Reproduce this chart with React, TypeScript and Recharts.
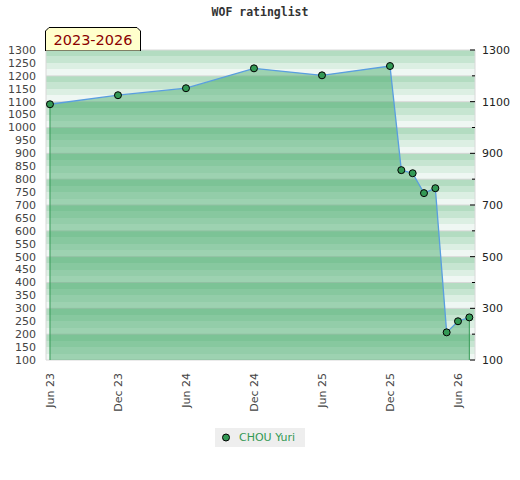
import {
  ComposedChart,
  Area,
  Line,
  XAxis,
  YAxis,
  CartesianGrid,
  Legend,
  ReferenceLine,
} from "recharts";

// rating list entries (year-month) and the ratings
const months = [
  "2023-06", "2023-12", "2024-06", "2024-12", "2025-06", "2025-12",
  "2026-01", "2026-02", "2026-03", "2026-04", "2026-05", "2026-06", "2026-07",
];
const ratings = [1090, 1125, 1152, 1229, 1202, 1238, 835, 823, 746, 765, 207, 250, 265];

const tickMonths = ["2023-06", "2023-12", "2024-06", "2024-12", "2025-06", "2025-12", "2026-06"];
const tickLabels = ["Jun 23", "Dec 23", "Jun 24", "Dec 24", "Jun 25", "Dec 25", "Jun 26"];

const leftTicks = [
  100, 150, 200, 250, 300, 350, 400, 450, 500, 550, 600, 650, 700,
  750, 800, 850, 900, 950, 1000, 1050, 1100, 1150, 1200, 1250, 1300,
];
const rightTicks = [100, 200, 300, 400, 500, 600, 700, 800, 900, 1000, 1100, 1200, 1300];
const rightLabels = [1300, 1100, 900, 700, 500, 300, 100];

const playerName = "CHOU Yuri";
const title = "WOF ratinglist";
const period = "2023-2026";

const monthIndex = (m: string) => {
  const [y, mo] = m.split("-").map(Number);
  return (y - 2023) * 12 + (mo - 6);
};

const data = months.map((m, i) => ({ x: monthIndex(m), rating: ratings[i] }));
const xTicks = tickMonths.map(monthIndex);
const xDomain = [-0.35, 37.5];

// background stripes: 4 per 100 rating points, darkest at the top
const stripeTicks: number[] = [];
for (let v = 100; v <= 1300; v += 25) stripeTicks.push(v);
const stripeFill = ["#b3dcc1", "#c6e5d1", "#dcefe3", "#eff7f3"];

const GREEN = "#339955";
const font = "DejaVu Sans, sans-serif";

function XTick({ x, y, payload }: any) {
  const label = tickLabels[xTicks.indexOf(payload.value)];
  return (
    <text
      x={x}
      y={y}
      transform={`rotate(-90, ${x}, ${y})`}
      textAnchor="end"
      dy="0.35em"
      fontSize={11}
      fontFamily={font}
      fill="#444"
    >
      {label}
    </text>
  );
}

function RightTick({ x, y, payload }: any) {
  const labelled = rightLabels.includes(payload.value);
  return (
    <g>
      <line x1={x - (labelled ? 12 : 10)} x2={x - 7} y1={y} y2={y} stroke="#000" />
      {labelled && (
        <text x={x} y={y} dy="0.35em" fontSize={11} fontFamily={font} fill="#222">
          {payload.value}
        </text>
      )}
    </g>
  );
}

function LegendBox() {
  return (
    <div style={{ display: "flex", justifyContent: "center" }}>
      <div
        style={{
          background: "#eeeeee",
          width: 90,
          height: 19,
          display: "flex",
          alignItems: "center",
          fontFamily: font,
          fontSize: 11,
          color: GREEN,
        }}
      >
        <svg width={24} height={19}>
          <circle cx={11} cy={9.5} r={3.5} fill={GREEN} stroke="#000" />
        </svg>
        <span>{playerName}</span>
      </div>
    </div>
  );
}

export default function App() {
  const first = data[0];
  const last = data[data.length - 1];
  return (
    <div style={{ position: "absolute", left: 0, top: 0, width: 520, height: 480, background: "#fff" }}>
      <div
        style={{
          position: "absolute",
          top: 5,
          left: 0,
          width: 520,
          textAlign: "center",
          fontFamily: "DejaVu Sans Mono, monospace",
          fontWeight: "bold",
          fontSize: 11.5,
          color: "#333",
        }}
      >
        {title}
      </div>
      <ComposedChart
        width={520}
        height={480}
        data={data}
        margin={{ top: 50, right: 0, bottom: 60, left: 0 }}
      >
        <YAxis
          yAxisId="stripes"
          hide
          domain={[100, 1300]}
          allowDataOverflow
          ticks={stripeTicks}
          interval={0}
        />
        <CartesianGrid
          yAxisId="stripes"
          vertical={false}
          stroke="none"
          horizontalFill={stripeFill}
        />
        <CartesianGrid yAxisId="right" vertical={false} stroke="#d8d8d8" />
        <XAxis
          dataKey="x"
          type="number"
          domain={xDomain}
          allowDataOverflow
          ticks={xTicks}
          interval={0}
          axisLine={false}
          tickLine={false}
          tickSize={0}
          tickMargin={13}
          height={60}
          tick={<XTick />}
        />
        <YAxis
          yAxisId="left"
          domain={[100, 1300]}
          allowDataOverflow
          ticks={leftTicks}
          interval={0}
          width={46}
          axisLine={false}
          tickLine={false}
          tickSize={0}
          tickMargin={10}
          tick={{ fontSize: 11, fontFamily: font, fill: "#444" }}
        />
        <YAxis
          yAxisId="right"
          orientation="right"
          domain={[100, 1300]}
          allowDataOverflow
          ticks={rightTicks}
          interval={0}
          width={45}
          axisLine={false}
          tickLine={false}
          tickSize={0}
          tickMargin={7}
          tick={<RightTick />}
        />
        {/* invisible series so the helper axes get data */}
        <Line
          yAxisId="stripes"
          dataKey="rating"
          stroke="none"
          dot={false}
          activeDot={false}
          legendType="none"
          isAnimationActive={false}
        />
        <Line
          yAxisId="right"
          dataKey="rating"
          stroke="none"
          dot={false}
          activeDot={false}
          legendType="none"
          isAnimationActive={false}
        />
        <ReferenceLine yAxisId="left" x={xDomain[0]} stroke="#d8d8d8" />
        <ReferenceLine yAxisId="left" x={xDomain[1]} stroke="#d8d8d8" />
        <Area
          yAxisId="left"
          type="linear"
          dataKey="rating"
          name={playerName}
          stroke="#5a9ee0"
          strokeWidth={1.3}
          fill="#39a462"
          fillOpacity={0.45}
          baseValue={100}
          dot={{ r: 3.5, fill: GREEN, stroke: "#000", strokeWidth: 1, fillOpacity: 1 }}
          activeDot={false}
          isAnimationActive={false}
        />
        <ReferenceLine
          yAxisId="left"
          segment={[{ x: first.x, y: 100 }, { x: first.x, y: first.rating }]}
          stroke={GREEN}
        />
        <ReferenceLine
          yAxisId="left"
          segment={[{ x: last.x, y: 100 }, { x: last.x, y: last.rating }]}
          stroke={GREEN}
        />
        <Legend
          verticalAlign="middle"
          align="center"
          layout="horizontal"
          wrapperStyle={{ top: 428, left: 0, width: 520 }}
          content={() => <LegendBox />}
        />
      </ComposedChart>
      <svg style={{ position: "absolute", left: 45, top: 27 }} width={97} height={24}>
        <polygon
          points="0.5,24 0.5,4 4,0.5 92,0.5 95.5,4 95.5,24"
          fill="#ffffcc"
          stroke="#000"
        />
        <text
          x={48}
          y={18}
          textAnchor="middle"
          fontSize={14.5}
          fontFamily={font}
          fill="#8b0000"
        >
          {period}
        </text>
      </svg>
    </div>
  );
}
